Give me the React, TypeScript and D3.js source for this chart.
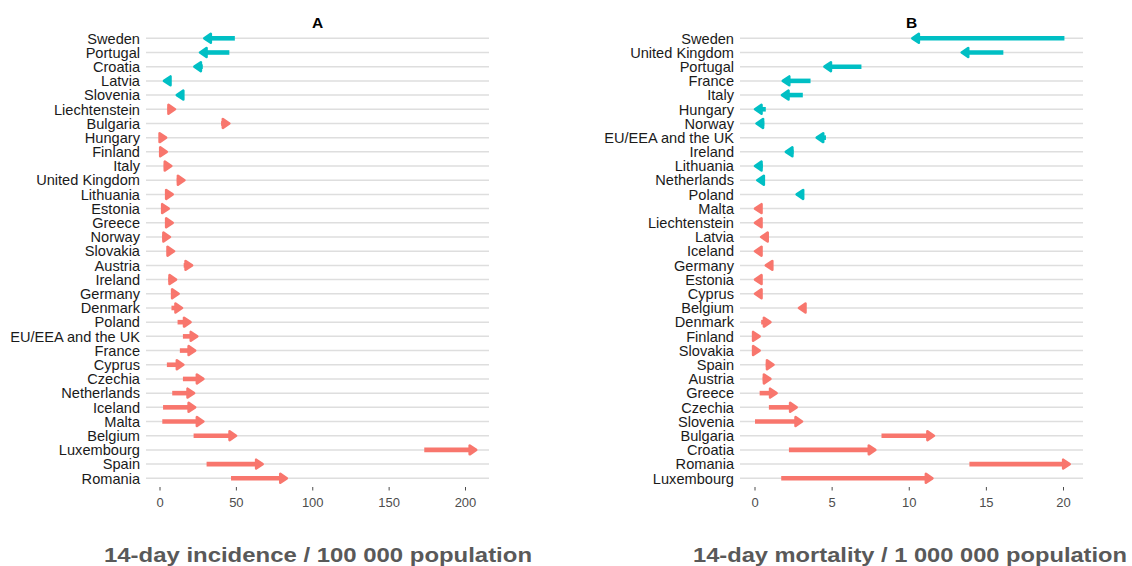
import { useEffect, useRef } from "react";
import * as d3 from "d3";

// panel A: 14-day incidence / 100 000 (from -> to)
const countriesA = ["Sweden", "Portugal", "Croatia", "Latvia", "Slovenia", "Liechtenstein", "Bulgaria", "Hungary", "Finland", "Italy", "United Kingdom", "Lithuania", "Estonia", "Greece", "Norway", "Slovakia", "Austria", "Ireland", "Germany", "Denmark", "Poland", "EU/EEA and the UK", "France", "Cyprus", "Czechia", "Netherlands", "Iceland", "Malta", "Belgium", "Luxembourg", "Spain", "Romania"];
const fromA = [49, 45.4, 28, 7, 15.5, 5, 40, 0, 0.5, 2.5, 11, 3.5, 1, 4, 1.5, 4.5, 15.5, 5.5, 7.5, 7.5, 11.5, 15, 13, 4.5, 15, 8, 2, 1.5, 22, 173, 30.5, 46.5];
const toA = [29, 26.2, 22.5, 2.6, 11, 9.8, 45.4, 4, 4.4, 7.4, 16, 8.3, 5.7, 8.3, 6.5, 9.2, 21, 10.5, 12.2, 14.4, 20, 24.4, 23, 15.3, 28.4, 22.3, 23, 28.4, 49.8, 207, 67.2, 83];

// panel B: 14-day mortality / 1 000 000 (from -> to)
const countriesB = ["Sweden", "United Kingdom", "Portugal", "France", "Italy", "Hungary", "Norway", "EU/EEA and the UK", "Ireland", "Lithuania", "Netherlands", "Poland", "Malta", "Liechtenstein", "Latvia", "Iceland", "Germany", "Estonia", "Cyprus", "Belgium", "Denmark", "Finland", "Slovakia", "Spain", "Austria", "Greece", "Czechia", "Slovenia", "Bulgaria", "Croatia", "Romania", "Luxembourg"];
const fromB = [20.06, 16.1, 6.9, 3.6, 3.1, 0.7, 0.6, 4.6, 2.5, 0.5, 0.6, 3.1, 0, 0, 0.4, 0, 0.7, 0, 0, 2.85, 0.4, 0, 0, 0.7, 0.5, 0.3, 0.9, 0, 8.2, 2.2, 13.9, 1.7];
const toB = [10.2, 13.4, 4.5, 1.8, 1.75, 0, 0.1, 4.0, 2.0, 0, 0.15, 2.7, 0, 0, 0.4, 0, 0.7, 0, 0, 2.85, 1.0, 0.3, 0.3, 1.2, 1.0, 1.4, 2.7, 3.05, 11.6, 7.8, 20.4, 11.5];

const ticksA = [0, 50, 100, 150, 200];
const ticksB = [0, 5, 10, 15, 20];

const UP = "#F8766D";
const DOWN = "#00BFC4";

function drawPanel(svg, opt) {
  const g = svg.append("g");
  const y = d3.scalePoint().domain(opt.countries).range([38.3, 478.3]);
  const x = d3.scaleLinear().domain(opt.domain).range(opt.range);

  g.selectAll(".grid").data(opt.countries).join("line")
    .attr("x1", opt.gx[0]).attr("x2", opt.gx[1])
    .attr("y1", d => y(d)).attr("y2", d => y(d))
    .attr("stroke", "#dedede").attr("stroke-width", 1.5);

  g.selectAll(".ylab").data(opt.countries).join("text")
    .attr("x", opt.gx[0] - 6).attr("y", d => y(d)).attr("dy", "0.36em")
    .attr("text-anchor", "end").attr("font-size", 14.6).attr("fill", "#1a1a1a")
    .text(d => d);

  g.selectAll(".tick").data(opt.ticks).join("line")
    .attr("x1", d => x(d)).attr("x2", d => x(d))
    .attr("y1", 487).attr("y2", 490.5)
    .attr("stroke", "#4d4d4d").attr("stroke-width", 1);
  g.selectAll(".tlab").data(opt.ticks).join("text")
    .attr("x", d => x(d)).attr("y", 507)
    .attr("text-anchor", "middle").attr("font-size", 13).attr("fill", "#4d4d4d")
    .text(d => d);

  const rows = opt.countries.map((c, i) => ({ c, a: opt.from[i], b: opt.to[i] }));
  const L = 6.5, hw = 4.4;
  rows.forEach(r => {
    const col = r.b >= r.a ? UP : DOWN;
    const x1 = x(r.a), x2 = x(r.b), yy = y(r.c);
    // zero-length segments get a head pointing left (as ggplot draws them)
    const dir = r.b > r.a ? 1 : -1;
    if (Math.abs(x2 - x1) > 0.5) {
      g.append("line").attr("x1", x1).attr("x2", x2 - dir * 3).attr("y1", yy).attr("y2", yy)
        .attr("stroke", col).attr("stroke-width", 4.6);
    }
    const pts = [[x2, yy], [x2 - dir * L, yy - hw], [x2 - dir * L, yy + hw]];
    g.append("polygon").attr("points", pts.map(p => p.join(",")).join(" "))
      .attr("fill", col).attr("stroke", col).attr("stroke-width", 2.6).attr("stroke-linejoin", "round");
  });

  g.append("text").attr("x", (opt.gx[0] + opt.gx[1]) / 2).attr("y", 28)
    .attr("text-anchor", "middle").attr("font-size", 15.5).attr("font-weight", "bold").attr("fill", "#000")
    .text(opt.title);

  g.append("text").attr("x", opt.tx).attr("y", 562)
    .attr("text-anchor", "middle").attr("font-size", 20.5).attr("font-weight", "bold").attr("fill", "#595959")
    .attr("textLength", opt.tw).attr("lengthAdjust", "spacingAndGlyphs")
    .text(opt.xlab);
}

export default function App() {
  const ref = useRef(null);
  useEffect(() => {
    const svg = d3.select(ref.current);
    svg.selectAll("*").remove();
    drawPanel(svg, {
      countries: countriesA, from: fromA, to: toA, ticks: ticksA,
      domain: [0, 200], range: [160, 465.5], gx: [146, 489],
      title: "A", xlab: "14-day incidence / 100 000 population", tx: 318, tw: 428,
    });
    drawPanel(svg, {
      countries: countriesB, from: fromB, to: toB, ticks: ticksB,
      domain: [0, 20], range: [755, 1063.5], gx: [740, 1083],
      title: "B", xlab: "14-day mortality / 1 000 000 population", tx: 910, tw: 434,
    });
  }, []);
  return (
    <svg ref={ref} width={1132} height={566}
      style={{ position: "absolute", left: 0, top: 0, background: "#fff", fontFamily: "Liberation Sans, Arial, sans-serif" }} />
  );
}
